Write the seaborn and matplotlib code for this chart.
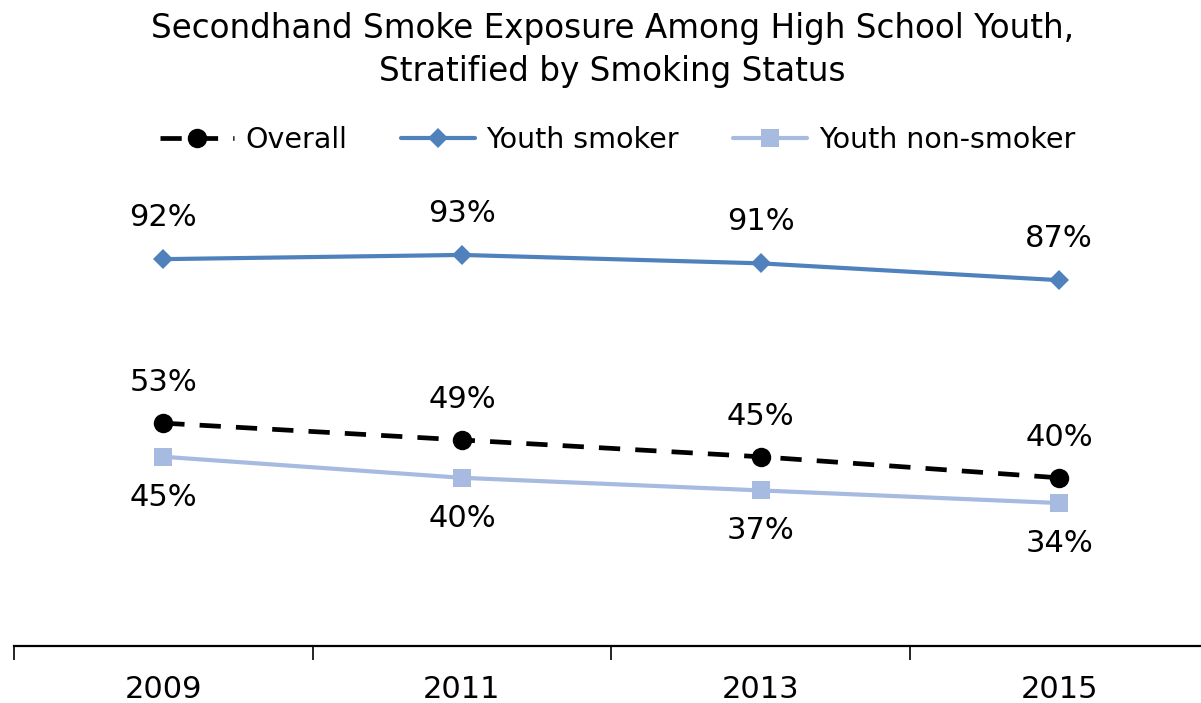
import matplotlib
matplotlib.use("Agg")
import matplotlib.pyplot as plt
import seaborn as sns
import numpy as np

years = ["2009", "2011", "2013", "2015"]
overall = [53, 49, 45, 40]
smoker = [92, 93, 91, 87]
non_smoker = [45, 40, 37, 34]

sns.set_theme(style="white")
plt.rcParams['font.family'] = ['DejaVu Sans']
plt.rcParams['text.color'] = 'black'
plt.rcParams['xtick.color'] = 'black'

fig = plt.figure(figsize=(12.01, 7.03), dpi=100)
ax = fig.add_axes([14 / 1201, 57 / 703, 1 - 14 / 1201, 420.5 / 703])

x = np.arange(len(years))

# series: values, color, marker, marker size, label offset (points)
series = [
    ("Overall", overall, "black", "o", 14, 29),
    ("Youth smoker", smoker, "#4F81BD", "D", 10, 30),
    ("Youth non-smoker", non_smoker, "#A7BADF", "s", 13, -29),
]

for name, vals, color, marker, ms, off in series:
    sns.lineplot(x=x, y=vals, ax=ax, color=color, marker=marker, markersize=ms,
                 markeredgewidth=0, linewidth=3.0, label=name)
    for xi, v in zip(x, vals):
        ax.annotate(f"{v}%", (xi, v), xytext=(0, off), textcoords="offset points",
                    ha="center", va="center", fontsize=22, color="black")

ax.lines[0].set_dashes([4.5, 3.2])
ax.lines[0].set_linewidth(3.4)

ax.set_xlim(-0.5, -0.5 + 1187 / 298.6)
ax.set_ylim(0, 100)
ax.set_yticks([])
ax.set_xticks(x)
ax.set_xticklabels(years, fontsize=22)
ax.set_xticks(np.arange(-0.5, 3.0, 1.0), minor=True)
ax.tick_params(axis="x", which="major", length=0, pad=21)
ax.tick_params(axis="x", which="minor", length=10, width=1.2, color="black", direction="out", bottom=True)
for s in ["top", "right", "left"]:
    ax.spines[s].set_visible(False)
ax.spines["bottom"].set_color("black")
ax.spines["bottom"].set_linewidth(1.6)
ax.set_xlabel("")
ax.set_ylabel("")

handles, labels = ax.get_legend_handles_labels()
ax.get_legend().remove()
fig.legend(handles, labels, loc="center", bbox_to_anchor=(0.514, 1 - 140 / 703), ncol=3,
           frameon=False, fontsize=20.5, handlelength=2.6, columnspacing=1.9, handletextpad=0.4)

fig.text(0.51, 1 - 50 / 703, "Secondhand Smoke Exposure Among High School Youth,\nStratified by Smoking Status",
         ha="center", va="center", fontsize=23.5, linespacing=1.38)

fig.savefig("out.png", dpi=100)
